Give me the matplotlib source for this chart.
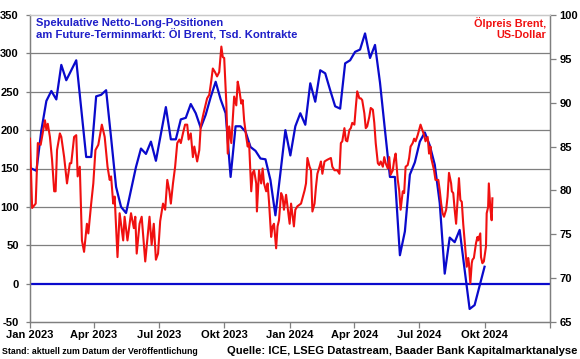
import numpy as np
import matplotlib
matplotlib.use("Agg")
import matplotlib.pyplot as plt

plt.rcParams['font.family'] = ['Liberation Sans', 'DejaVu Sans']
plt.rcParams['font.weight'] = 'bold'
plt.rcParams['axes.unicode_minus'] = False

# ---- data ----
cot_start = '2023-01-03'  # weekly (Tuesday) COT data
cot_net = [150, 147, 200, 238, 251, 240, 285, 265, 278, 291,
           228, 165, 165, 244, 246, 252, 190, 126, 100, 92,
           122, 152, 176, 169, 185, 160, 195, 230, 188, 188,
           214, 216, 234, 222, 203, 220, 243, 263, 240, 222,
           139, 205, 205, 198, 178, 173, 163, 162, 135, 89,
           144, 200, 167, 205, 222, 207, 261, 237, 278, 274,
           252, 231, 228, 287, 291, 302, 305, 326, 294, 311,
           262, 200, 139, 139, 37, 68, 142, 158, 185, 197,
           180, 155, 105, 13, 60, 54, 70, 18, -33, -28,
           -3, 22]

brent_base = '2023-01-01'
brent_day = [0, 3, 8, 11, 15, 21, 23, 25, 28, 31, 34, 36, 38, 42, 44, 48, 52, 56, 58, 62,
             65, 67, 70, 73, 76, 80, 82, 86, 89, 92, 96, 101, 105, 109, 112, 114, 117, 119, 123, 126,
             131, 133, 137, 142, 146, 148, 150, 154, 157, 162, 168, 171, 174, 177, 180, 183, 187, 190, 193, 196,
             198, 201, 204, 207, 210, 212, 215, 218, 221, 223, 226, 229, 231, 235, 238, 240, 244, 249, 252, 255,
             257, 260, 263, 266, 269, 271, 273, 276, 278, 280, 283, 285, 287, 290, 292, 294, 297, 299, 301, 304,
             306, 308, 311, 313, 315, 318, 319, 322, 325, 327, 329, 332, 334, 336, 339, 341, 343, 346, 348, 350,
             353, 355, 357, 360, 363, 365, 367, 371, 373, 376, 381, 386, 388, 390, 393, 395, 397, 400, 402, 404,
             407, 409, 411, 414, 418, 423, 425, 428, 432, 435, 437, 439, 442, 444, 446, 449, 451, 453, 456, 458,
             460, 463, 465, 467, 470, 472, 474, 477, 479, 482, 484, 486, 489, 491, 493, 496, 498, 500, 503, 505,
             507, 510, 512, 514, 517, 519, 521, 524, 526, 528, 531, 533, 535, 538, 540, 542, 545, 547, 549, 554,
             556, 559, 561, 563, 564, 568, 570, 574, 576, 578, 580, 582, 585, 587, 589, 592, 593, 595, 597, 599,
             601, 603, 605, 607, 609, 612, 614, 616, 617, 619, 621, 622, 624, 627, 629, 630, 633, 634, 636, 638,
             641, 642, 644, 645, 647, 649, 650]
brent_usd = [85.9, 78.0, 78.5, 85.4, 85.2, 88.0, 86.9, 87.6, 86.1, 83.5, 79.9, 79.9, 84.6, 86.5, 86.1, 83.8, 80.8, 83.1, 83.1, 86.1,
             86.3, 81.6, 82.7, 74.3, 73.0, 76.2, 75.1, 78.5, 80.8, 84.6, 85.2, 87.5, 86.1, 82.7, 81.2, 81.6, 78.5, 79.3, 72.4, 77.4,
             74.3, 77.0, 74.3, 77.4, 75.7, 77.0, 72.8, 76.2, 77.0, 71.9, 77.0, 73.8, 76.2, 72.1, 72.8, 76.5, 78.5, 77.8, 81.2, 79.9,
             78.5, 80.8, 82.7, 85.4, 85.8, 85.4, 86.5, 87.5, 87.5, 85.8, 86.5, 83.8, 85.0, 83.3, 84.6, 87.3, 88.8, 90.5, 90.9, 92.6,
             93.9, 93.5, 93.0, 93.5, 96.4, 95.2, 95.1, 89.9, 84.2, 87.3, 85.4, 88.0, 90.7, 89.7, 92.4, 91.6, 89.9, 90.3, 88.0, 86.1,
             85.0, 85.4, 79.9, 82.0, 82.3, 80.8, 77.6, 82.3, 80.8, 82.5, 80.8, 79.9, 80.8, 78.7, 74.7, 75.9, 76.2, 73.4, 75.9, 76.6,
             79.7, 79.3, 77.8, 79.5, 77.5, 76.2, 78.5, 75.9, 77.8, 78.2, 78.5, 80.0, 80.8, 83.7, 82.7, 82.3, 77.6, 78.5, 80.4, 81.9,
             82.7, 83.3, 81.9, 83.3, 83.5, 83.7, 82.7, 82.3, 82.3, 81.9, 85.4, 85.6, 87.1, 85.7, 85.6, 86.9, 87.1, 87.7, 87.5, 89.5,
             91.3, 90.5, 90.5, 90.3, 88.8, 87.1, 87.3, 88.4, 89.4, 89.2, 87.7, 85.4, 83.1, 82.9, 83.3, 82.7, 83.8, 83.1, 82.5, 83.8,
             81.8, 82.3, 83.5, 84.2, 81.2, 80.0, 77.8, 79.9, 79.7, 82.7, 82.9, 83.7, 85.0, 85.4, 85.9, 85.6, 86.3, 86.9, 87.5, 86.3,
             85.6, 86.1, 84.2, 85.0, 83.7, 82.3, 81.2, 81.2, 80.0, 78.5, 77.4, 77.0, 77.8, 79.3, 82.0, 80.8, 79.9, 79.7, 77.8, 76.2,
             78.9, 81.4, 78.9, 78.7, 76.2, 73.2, 71.3, 72.3, 71.7, 69.4, 71.7, 72.1, 72.3, 74.0, 74.7, 74.3, 75.1, 72.4, 71.7, 71.9,
             73.6, 77.4, 78.1, 80.8, 78.1, 76.6, 79.1]

xtick_dates = ['2023-01-01', '2023-04-01', '2023-07-01', '2023-10-01',
               '2024-01-01', '2024-04-01', '2024-07-01', '2024-10-01', '2025-01-01']
xtick_labels = ['Jan 2023', 'Apr 2023', 'Jul 2023', 'Okt 2023',
                'Jan 2024', 'Apr 2024', 'Jul 2024', 'Okt 2024', '']
left_ticks = [-50, 0, 50, 100, 150, 200, 250, 300, 350]
right_ticks = [65, 70, 75, 80, 85, 90, 95, 100]

BLUE = '#0A0ACC'
RED = '#F01010'
GRID = '#7F7F7F'

cot_dates = np.datetime64(cot_start) + np.arange(len(cot_net)) * 7
brent_dates = np.datetime64(brent_base) + np.array(brent_day)

fig = plt.figure(figsize=(5.8, 3.59), dpi=100)
ax = fig.add_axes([30/580, 1-322/359, 520/580, 307/359])
ax2 = ax.twinx()

ax.set_xlim(np.datetime64('2023-01-01'), np.datetime64('2025-01-01'))
ax.set_ylim(-50, 350)
ax2.set_ylim(65, 100)

ax.set_yticks(left_ticks)
for v in left_ticks[2:-1]:
    ax.axhline(v, color=GRID, lw=0.9, zorder=1)
ax.axhline(0, color=BLUE, lw=1.6, zorder=2)

ax.plot(cot_dates, cot_net, color=BLUE, lw=1.6, zorder=3)
ax2.plot(brent_dates, brent_usd, color=RED, lw=1.5, zorder=3)

ax.set_xticks([np.datetime64(d) for d in xtick_dates])
ax.set_xticklabels(xtick_labels)
ax2.set_yticks(right_ticks)

for a in (ax, ax2):
    for s in a.spines.values():
        s.set_color(GRID)
        s.set_linewidth(0.9)
    a.spines['top'].set_color('#C8C8C8')

ax.tick_params(axis='x', direction='out', length=4, width=0.9, color=GRID,
               labelsize=8, pad=2)
ax.tick_params(axis='y', direction='out', length=3, width=0.9, color=GRID,
               labelsize=8, pad=5)
ax2.tick_params(axis='y', direction='out', length=4, width=0.9, color=GRID,
                labelsize=8, pad=3)
for lab in ax.get_xticklabels() + ax.get_yticklabels() + ax2.get_yticklabels():
    lab.set_fontweight('bold')

fig.text(36/580, 1-18/359, 'Spekulative Netto-Long-Positionen\nam Future-Terminmarkt: Öl Brent, Tsd. Kontrakte',
         color='#1E1EC8', fontsize=8.1, fontweight='bold', ha='left', va='top', linespacing=1.12)
fig.text(546/580, 1-17/359, 'Ölpreis Brent,\nUS-Dollar', color=RED,
         fontsize=7.8, fontweight='bold', ha='right', va='top', linespacing=1.15)
fig.text(2/580, 1-352/359, 'Stand: aktuell zum Datum der Veröffentlichung',
         fontsize=6.35, fontweight='bold', ha='left', va='center')
fig.text(577/580, 1-351/359, 'Quelle: ICE, LSEG Datastream, Baader Bank Kapitalmarktanalyse',
         fontsize=8.1, fontweight='bold', ha='right', va='center')

fig.savefig('out.png', dpi=100)
